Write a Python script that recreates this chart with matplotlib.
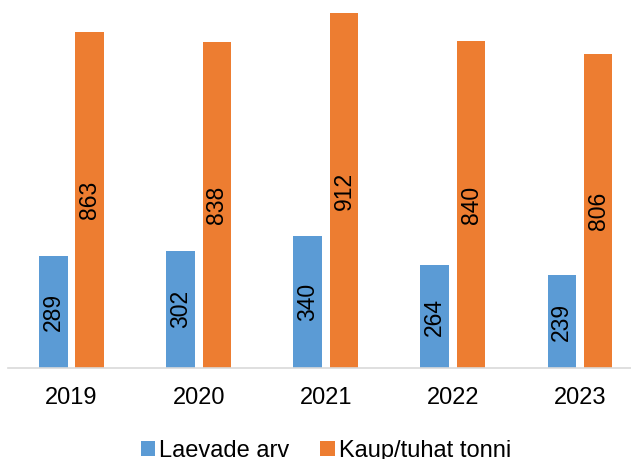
import matplotlib
matplotlib.use("Agg")
import matplotlib.pyplot as plt
import numpy as np

plt.rcParams["font.family"] = ["Liberation Sans", "DejaVu Sans"]

years = ["2019", "2020", "2021", "2022", "2023"]
laevade_arv = [289, 302, 340, 264, 239]
kaup_tuhat_tonni = [863, 838, 912, 840, 806]

blue = "#5B9BD5"
orange = "#ED7D31"

fig = plt.figure(figsize=(6.31, 4.59), dpi=100)
ax = fig.add_axes([8 / 631, 1 - 368 / 459, 635.5 / 631, 368 / 459])

x = np.arange(len(years))
w = 0.224
off = 0.143
b1 = ax.bar(x - off, laevade_arv, w, color=blue, label="Laevade arv")
b2 = ax.bar(x + off, kaup_tuhat_tonni, w, color=orange, label="Kaup/tuhat tonni")
ax.bar_label(b1, label_type="center", rotation=90, fontsize=16.5)
ax.bar_label(b2, label_type="center", rotation=90, fontsize=16.5)

ax.set_xlim(-0.5, len(years) - 0.5)
ax.set_ylim(0, 946)
ax.set_xticks(x, years, fontsize=17)
ax.tick_params(axis="x", length=0, pad=14)
ax.set_yticks([])
for s in ["top", "right", "left"]:
    ax.spines[s].set_visible(False)
ax.spines["bottom"].set_color("#D9D9D9")
ax.spines["bottom"].set_linewidth(1.2)

fig.legend(loc="center", bbox_to_anchor=(326 / 631, 1 - 451 / 459), ncol=2,
           frameon=False, fontsize=17, handlelength=0.6, handleheight=0.6,
           handletextpad=0.2, columnspacing=1.3)

fig.savefig("out.png", dpi=100)
